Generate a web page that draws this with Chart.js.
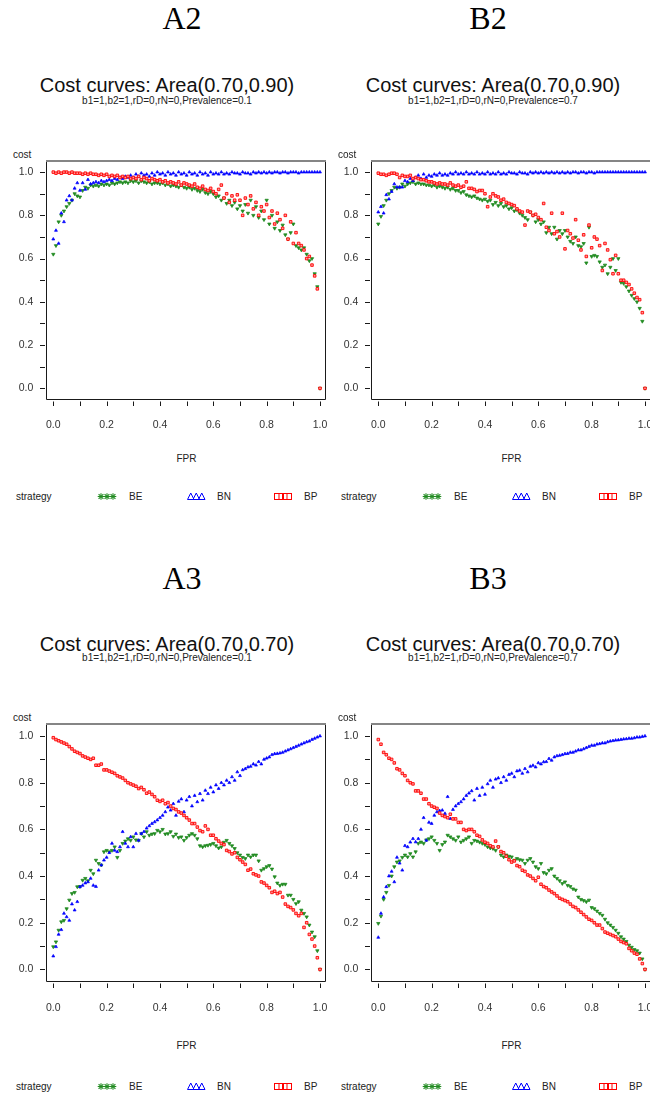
<!DOCTYPE html>
<html><head><meta charset="utf-8">
<script src="https://cdn.jsdelivr.net/npm/chart.js@4.4.1/dist/chart.umd.min.js"></script>
<style>
html,body{margin:0;padding:0;background:#fff;}
body{width:650px;height:1097px;overflow:hidden;position:relative;font-family:"Liberation Sans",Arial,sans-serif;}
.abs{position:absolute;white-space:nowrap;}
.lab{font-family:"Liberation Serif","Times New Roman",serif;font-size:32px;line-height:32px;color:#000;width:120px;text-align:center;}
.ttl{font-size:20px;line-height:20px;color:#111;width:340px;text-align:center;}
.sub{font-size:10px;line-height:10px;color:#222;width:340px;text-align:center;}
.sm{font-size:10px;line-height:12px;color:#222;}
canvas{position:absolute;}
svg{position:absolute;overflow:visible;}
</style></head><body>
<script>
// ---------------- data ----------------
const fpr = [0,.01,.02,.03,.04,.05,.06,.07,.08,.09,
 .10,.11,.12,.13,.14,.15,.16,.17,.18,.19,
 .20,.21,.22,.23,.24,.25,.26,.27,.28,.29,
 .30,.31,.32,.33,.34,.35,.36,.37,.38,.39,
 .40,.41,.42,.43,.44,.45,.46,.47,.48,.49,
 .50,.51,.52,.53,.54,.55,.56,.57,.58,.59,
 .60,.61,.62,.63,.64,.65,.66,.67,.68,.69,
 .70,.71,.72,.73,.74,.75,.76,.77,.78,.79,
 .80,.81,.82,.83,.84,.85,.86,.87,.88,.89,
 .90,.91,.92,.93,.94,.95,.96,.97,.98,.99,
 1];

const strategies = ['BE','BN','BP'];

// Panel A2
const A2_BE = [.62,.66,.77,.80,.82,.84,.855,.87,.90,.89,
 .885,.915,.93,.925,.94,.935,.94,.935,.945,.94,
 .945,.94,.95,.945,.95,.955,.95,.955,.95,.96,
 .955,.96,.95,.96,.955,.95,.955,.945,.95,.95,
 .945,.95,.94,.945,.935,.94,.935,.93,.94,.93,
 .925,.93,.92,.925,.915,.91,.92,.905,.90,.91,
 .90,.885,.89,.87,.88,.855,.87,.845,.86,.83,
 .845,.82,.85,.81,.87,.80,.84,.79,.82,.78,
 .87,.76,.80,.74,.77,.73,.755,.71,.69,.72,
 .76,.66,.65,.64,.65,.62,.59,.60,.53,.47,
 0];
const A2_BN = [.69,.73,.67,.81,.77,.87,.89,.87,.925,.95,
 .915,.95,.92,.965,.945,.95,.955,.95,.96,.955,
 .96,.965,.96,.97,.965,.975,.97,.98,.975,.985,
 .975,.99,.98,.995,.985,.99,.98,.995,.985,1,
 .99,.995,.985,1,.99,.995,.985,1,.99,.995,
 .985,1,.99,.995,.985,1,.99,.995,.985,1,
 .99,.995,.99,1,.99,.995,.99,1,.995,.995,
 .99,1,.995,.995,.99,1,.995,1,.995,1,
 .995,1,.995,1,1,.995,1,1,.995,1,
 1,1,.995,1,1,1,1,1,1,1,
 1];
const A2_BP = [1,.995,1,.995,1,1,.995,1,.995,.995,
 .995,.99,.995,.99,.995,.99,.99,.985,.99,.985,
 .99,.98,.985,.98,.985,.975,.98,.975,.98,.97,
 .975,.97,.98,.965,.975,.97,.96,.97,.965,.96,
 .965,.955,.96,.95,.955,.95,.945,.955,.94,.95,
 .945,.94,.935,.945,.93,.925,.935,.92,.915,.925,
 .91,.90,.92,.94,.88,.90,.86,.89,.87,.895,
 .87,.80,.88,.85,.89,.83,.86,.80,.84,.82,
 .85,.79,.82,.76,.81,.78,.74,.80,.69,.77,
 .67,.72,.67,.66,.64,.60,.61,.57,.52,.46,
 0];

// Panel B2
const B2_BE = [.76,.795,.845,.87,.90,.915,.93,.925,.93,.945,
 .935,.945,.95,.955,.945,.95,.945,.945,.94,.94,
 .935,.94,.93,.935,.93,.925,.93,.92,.925,.915,
 .915,.905,.91,.895,.89,.885,.89,.88,.875,.87,
 .875,.865,.87,.85,.86,.845,.855,.84,.845,.83,
 .835,.82,.825,.81,.80,.79,.78,.815,.80,.77,
 .78,.76,.77,.72,.745,.715,.745,.69,.73,.715,
 .73,.70,.68,.67,.70,.66,.655,.67,.58,.745,
 .61,.615,.61,.585,.56,.57,.53,.56,.60,.545,
 .60,.49,.485,.47,.45,.43,.415,.40,.37,.31,
 0];
const B2_BN = [.815,.84,.81,.895,.875,.91,.945,.93,.93,.93,
 .96,.955,.97,.96,.975,.985,.97,.99,.975,.985,
 .98,.99,.985,.995,.985,.99,.985,.995,.99,1,
 .99,.995,.99,1,.99,.995,.99,1,.99,.995,
 .99,1,.99,.995,.99,1,.99,.995,.99,1,
 .995,.995,.99,1,.995,.995,.99,1,.995,1,
 .995,1,.995,1,.995,1,.995,1,.995,1,
 .995,1,.995,1,1,.995,1,1,.995,1,
 1,.995,1,1,1,1,1,1,1,1,
 1,1,1,1,1,1,1,1,1,1,
 1];
const B2_BP = [.995,.99,.99,.985,.99,.995,.995,.99,.975,.985,
 .98,.98,.985,.97,.975,.97,.965,.965,.96,.955,
 .955,.95,.945,.95,.945,.945,.94,.95,.94,.935,
 .94,.93,.935,.955,.925,.925,.92,.91,.915,.915,
 .90,.84,.885,.90,.89,.885,.87,.875,.86,.855,
 .85,.845,.83,.82,.815,.755,.82,.815,.80,.805,
 .79,.78,.855,.745,.73,.81,.715,.725,.70,.81,
 .645,.73,.715,.695,.78,.685,.64,.71,.61,.755,
 .65,.70,.69,.66,.545,.67,.64,.595,.53,.615,
 .53,.50,.50,.49,.48,.46,.44,.42,.41,.35,
 0];

// Panel A3
const A3_BE = [.097,.118,.168,.204,.21,.26,.297,.325,.33,.354,
 .355,.382,.39,.38,.425,.41,.468,.454,.447,.504,
 .51,.504,.51,.525,.48,.51,.54,.55,.56,.553,
 .568,.555,.553,.582,.568,.59,.575,.58,.582,.596,
 .59,.60,.58,.582,.59,.57,.58,.565,.568,.553,
 .565,.575,.582,.575,.56,.53,.525,.53,.532,.535,
 .54,.53,.52,.525,.545,.553,.54,.53,.518,.50,
 .49,.48,.475,.49,.482,.49,.49,.465,.425,.432,
 .44,.445,.43,.397,.37,.36,.365,.365,.318,.318,
 .30,.282,.29,.254,.24,.225,.19,.16,.14,.08,
 0];
const A3_BN = [.057,.097,.15,.17,.24,.225,.21,.28,.254,.29,
 .354,.36,.37,.375,.39,.36,.355,.425,.447,.468,
 .48,.50,.54,.51,.504,.525,.59,.54,.525,.568,
 .525,.582,.553,.582,.59,.605,.615,.625,.632,.64,
 .65,.66,.675,.695,.682,.71,.66,.72,.73,.675,
 .725,.74,.70,.745,.718,.753,.725,.767,.753,.78,
 .76,.79,.775,.80,.79,.81,.80,.825,.81,.846,
 .83,.855,.86,.867,.87,.88,.875,.89,.88,.90,
 .905,.91,.92,.924,.925,.927,.93,.935,.94,.945,
 .95,.955,.96,.965,.97,.975,.978,.985,.99,.995,
 1];
const A3_BP = [.993,.985,.98,.975,.97,.965,.955,.945,.935,.93,
 .925,.915,.91,.905,.90,.905,.875,.875,.88,.855,
 .855,.85,.845,.84,.83,.825,.82,.81,.80,.795,
 .79,.785,.775,.78,.77,.755,.76,.75,.74,.725,
 .72,.725,.71,.715,.70,.69,.685,.675,.67,.66,
 .65,.64,.625,.625,.61,.595,.59,.615,.60,.575,
 .575,.56,.55,.54,.535,.51,.505,.495,.50,.48,
 .47,.46,.45,.425,.43,.41,.405,.40,.375,.37,
 .36,.35,.33,.335,.325,.33,.31,.28,.27,.265,
 .255,.24,.23,.24,.18,.20,.15,.13,.10,.05,
 0];

// Panel B3
const B3_BE = [.197,.228,.30,.33,.36,.40,.44,.46,.465,.48,
 .49,.482,.496,.482,.504,.54,.546,.54,.555,.56,
 .568,.553,.54,.51,.535,.546,.575,.568,.56,.553,
 .568,.546,.553,.56,.568,.54,.553,.55,.545,.54,
 .535,.525,.52,.518,.51,.525,.49,.482,.49,.485,
 .482,.468,.475,.47,.468,.454,.468,.475,.46,.44,
 .432,.454,.415,.41,.425,.432,.40,.39,.38,.368,
 .375,.36,.355,.345,.34,.31,.30,.295,.29,.297,
 .265,.26,.25,.24,.232,.215,.20,.19,.18,.168,
 .155,.14,.13,.12,.104,.095,.085,.08,.07,.045,
 0];
const B3_BN = [.137,.24,.31,.354,.40,.42,.375,.48,.455,.425,
 .53,.525,.545,.56,.546,.56,.60,.65,.553,.63,
 .625,.66,.675,.68,.682,.668,.74,.646,.685,.70,
 .71,.718,.73,.745,.755,.765,.725,.775,.745,.78,
 .75,.795,.81,.78,.815,.82,.80,.825,.81,.835,
 .84,.825,.85,.853,.84,.86,.846,.87,.874,.867,
 .885,.88,.889,.89,.903,.896,.91,.915,.917,.92,
 .924,.925,.93,.93,.935,.94,.94,.945,.95,.955,
 .96,.96,.965,.967,.97,.97,.975,.978,.98,.982,
 .983,.985,.987,.988,.99,.99,.992,.995,.995,.998,
 1];
const B3_BP = [.985,.965,.93,.92,.905,.90,.885,.86,.855,.84,
 .83,.81,.80,.795,.765,.765,.755,.73,.73,.71,
 .70,.695,.69,.67,.66,.655,.65,.665,.645,.645,
 .63,.63,.60,.595,.60,.60,.59,.575,.57,.555,
 .545,.54,.53,.525,.55,.525,.505,.50,.485,.47,
 .46,.465,.445,.44,.425,.42,.405,.40,.39,.38,
 .395,.365,.355,.35,.34,.332,.325,.315,.305,.30,
 .295,.29,.28,.27,.265,.255,.245,.235,.225,.215,
 .21,.20,.19,.19,.175,.16,.155,.15,.145,.14,
 .13,.12,.115,.11,.09,.08,.07,.065,.045,.025,
 0];

const axisTicks = [0,.1,.2,.3,.4,.5,.6,.7,.8,.9,1];
const labeledTicks = [0,.2,.4,.6,.8,1];

const panels = [
 {label:'A2', title:'Cost curves: Area(0.70,0.90)', sub:'b1=1,b2=1,rD=0,rN=0,Prevalence=0.1', series:[A2_BE,A2_BN,A2_BP], col:0, row:0},
 {label:'B2', title:'Cost curves: Area(0.70,0.90)', sub:'b1=1,b2=1,rD=0,rN=0,Prevalence=0.7', series:[B2_BE,B2_BN,B2_BP], col:1, row:0},
 {label:'A3', title:'Cost curves: Area(0.70,0.70)', sub:'b1=1,b2=1,rD=0,rN=0,Prevalence=0.1', series:[A3_BE,A3_BN,A3_BP], col:0, row:1},
 {label:'B3', title:'Cost curves: Area(0.70,0.70)', sub:'b1=1,b2=1,rD=0,rN=0,Prevalence=0.7', series:[B3_BE,B3_BN,B3_BP], col:1, row:1}
];

// ---------------- layout / style ----------------
const colX = [0, 325];
const canvasW = [340, 326], padRight = [14, 0];
const rows = [
 {labelTop:2, titleTop:75, subTop:95.5, costTop:148.8, canvasTop:150, canvasH:290, xh:40, xpad:18.5, fprTop:452.9, legTop:491.1, symY:496},
 {labelTop:562, titleTop:633.5, subTop:653, costTop:711.8, canvasTop:713, canvasH:310, xh:41, xpad:20.3, fprTop:1039.6, legTop:1081.1, symY:1086}
];
const labelCx = [182, 488], titleCx = [167, 493], fprCx = [186.5, 511.5];
const colors = {BE:'#228B22', BN:'#0000FF', BP:'#FF0000'};
const legendPos = {strategy:16, sym:[98,187,274], txt:[129,217,304]};

function addText(cls, txt, left, top, center){
  const d = document.createElement('div');
  d.className = 'abs ' + cls;
  d.textContent = txt;
  d.style.top = top + 'px';
  d.style.left = '0px';
  document.body.appendChild(d);
  if (center){ d.style.left = (left - d.offsetWidth/2) + 'px'; }
  else d.style.left = left + 'px';
  return d;
}

function legendSymbol(kind, left, cy){
  const ns = 'http://www.w3.org/2000/svg';
  const s = document.createElementNS(ns,'svg');
  s.setAttribute('width','19'); s.setAttribute('height','9');
  s.style.left = left + 'px'; s.style.top = (cy - 4.5) + 'px';
  let inner = '';
  if (kind === 'BE'){
    [3,9,15].forEach(c=>{
      inner += `<g stroke="${colors.BE}" stroke-width="1.1"><line x1="${c-3.3}" y1="4.5" x2="${c+3.3}" y2="4.5"/><line x1="${c}" y1="1.2" x2="${c}" y2="7.8"/><line x1="${c-2.4}" y1="2.1" x2="${c+2.4}" y2="6.9"/><line x1="${c-2.4}" y1="6.9" x2="${c+2.4}" y2="2.1"/></g>`;
    });
  } else if (kind === 'BN'){
    [0,5.5,11].forEach(x0=>{
      inner += `<polygon points="${x0+0.5},7.5 ${x0+3.75},1 ${x0+7},7.5" fill="none" stroke="${colors.BN}" stroke-width="1"/>`;
    });
  } else {
    [0.5,5,9.5].forEach(x0=>{
      inner += `<rect x="${x0}" y="1.5" width="8" height="6" fill="none" stroke="${colors.BP}" stroke-width="1"/>`;
    });
  }
  s.innerHTML = inner;
  document.body.appendChild(s);
}

const rBox = {
  id:'rbox',
  afterDraw(chart){
    const {ctx, chartArea:a, scales} = chart;
    const x = scales.x, y = scales.y;
    const L = Math.round(a.left) - 0.5, R = Math.round(a.right) - 0.5, B = Math.round(a.bottom) - 0.5, T = Math.round(a.top);
    ctx.save();
    ctx.lineWidth = 1; ctx.strokeStyle = '#1a1a1a';
    ctx.beginPath(); ctx.moveTo(L, T); ctx.lineTo(L, B); ctx.lineTo(R, B); ctx.lineTo(R, T); ctx.stroke();
    ctx.lineWidth = 2; ctx.strokeStyle = '#858585';
    ctx.beginPath(); ctx.moveTo(L - 0.5, T + 1); ctx.lineTo(R + 0.5, T + 1); ctx.stroke();
    ctx.lineWidth = 1; ctx.strokeStyle = '#1a1a1a';
    x.ticks.forEach(t=>{
      const px = Math.round(x.getPixelForValue(t.value)) + 0.5;
      ctx.beginPath(); ctx.moveTo(px, B + 2); ctx.lineTo(px, B + 6.5); ctx.stroke();
    });
    y.ticks.forEach(t=>{
      const py = Math.round(y.getPixelForValue(t.value)) + 0.5;
      ctx.beginPath(); ctx.moveTo(L - 1.5, py); ctx.lineTo(L - 6.5, py); ctx.stroke();
    });
    ctx.restore();
  }
};

const tickFont = {family:'"Liberation Sans", Arial, sans-serif', size:10.5};
const fmt = v => labeledTicks.some(l => Math.abs(l - v) < 1e-9) ? Number(v).toFixed(1) : '';
const zeroPad = ax => { ax.paddingLeft = 0; ax.paddingRight = 0; ax.paddingTop = 0; ax.paddingBottom = 0; };

panels.forEach(p=>{
  const r = rows[p.row], cx = colX[p.col];
  addText('lab', p.label, labelCx[p.col], r.labelTop, true);
  addText('ttl', p.title, titleCx[p.col], r.titleTop, true);
  addText('sub', p.sub, titleCx[p.col], r.subTop, true);
  addText('sm', 'cost', cx + 13, r.costTop, false);
  addText('sm', 'FPR', fprCx[p.col], r.fprTop, true);
  addText('sm', 'strategy', cx + legendPos.strategy, r.legTop, false);
  strategies.forEach((s,i)=>{
    legendSymbol(s, cx + legendPos.sym[i], r.symY);
    addText('sm', s, cx + legendPos.txt[i], r.legTop, false);
  });

  const w = canvasW[p.col];
  const cv = document.createElement('canvas');
  cv.width = w; cv.height = r.canvasH;
  cv.style.left = cx + 'px'; cv.style.top = r.canvasTop + 'px';
  cv.style.width = w + 'px'; cv.style.height = r.canvasH + 'px';
  document.body.appendChild(cv);

  const styles = {
    BE:{pointStyle:'triangle', rotation:180, pointRadius:1.9, borderWidth:0.8, backgroundColor:colors.BE, borderColor:colors.BE, order:3},
    BN:{pointStyle:'triangle', rotation:0, pointRadius:1.7, borderWidth:0.7, backgroundColor:colors.BN, borderColor:colors.BN, order:2},
    BP:{pointStyle:'rect', rotation:0, pointRadius:1.8, borderWidth:0.9, backgroundColor:'#ff9c9c', borderColor:colors.BP, order:1}
  };
  const datasets = strategies.map((s,i)=>Object.assign({
    label:s,
    data: fpr.map((f,k)=>({x:f, y:p.series[i][k]})),
    showLine:false
  }, styles[s]));

  new Chart(cv.getContext('2d'), {
    type:'scatter',
    data:{datasets},
    options:{
      responsive:false, animation:false, devicePixelRatio:1, events:[],
      layout:{autoPadding:false, padding:{left:0,right:padRight[p.col],top:10,bottom:0}},
      plugins:{legend:{display:false}, title:{display:false}, tooltip:{enabled:false}},
      scales:{
        x:{type:'linear', min:-0.0236, max:1.0225, position:'bottom',
           grid:{display:false, drawTicks:false, tickLength:0}, border:{display:false},
           afterBuildTicks: ax => { ax.ticks = axisTicks.map(v=>({value:v})); },
           afterFit: ax => { ax.height = r.xh; zeroPad(ax); },
           ticks:{autoSkip:false, maxRotation:0, minRotation:0, padding:r.xpad, color:'#333', font:tickFont, callback:fmt}},
        y:{type:'linear', min:-0.054, max:1.056, position:'left',
           grid:{display:false, drawTicks:false, tickLength:0}, border:{display:false},
           afterBuildTicks: ax => { ax.ticks = axisTicks.map(v=>({value:v})); },
           afterFit: ax => { ax.width = 47; zeroPad(ax); },
           ticks:{autoSkip:false, padding:13.7, color:'#333', font:tickFont, callback:fmt}}
      }
    },
    plugins:[rBox]
  });
});
</script>
</body></html>
